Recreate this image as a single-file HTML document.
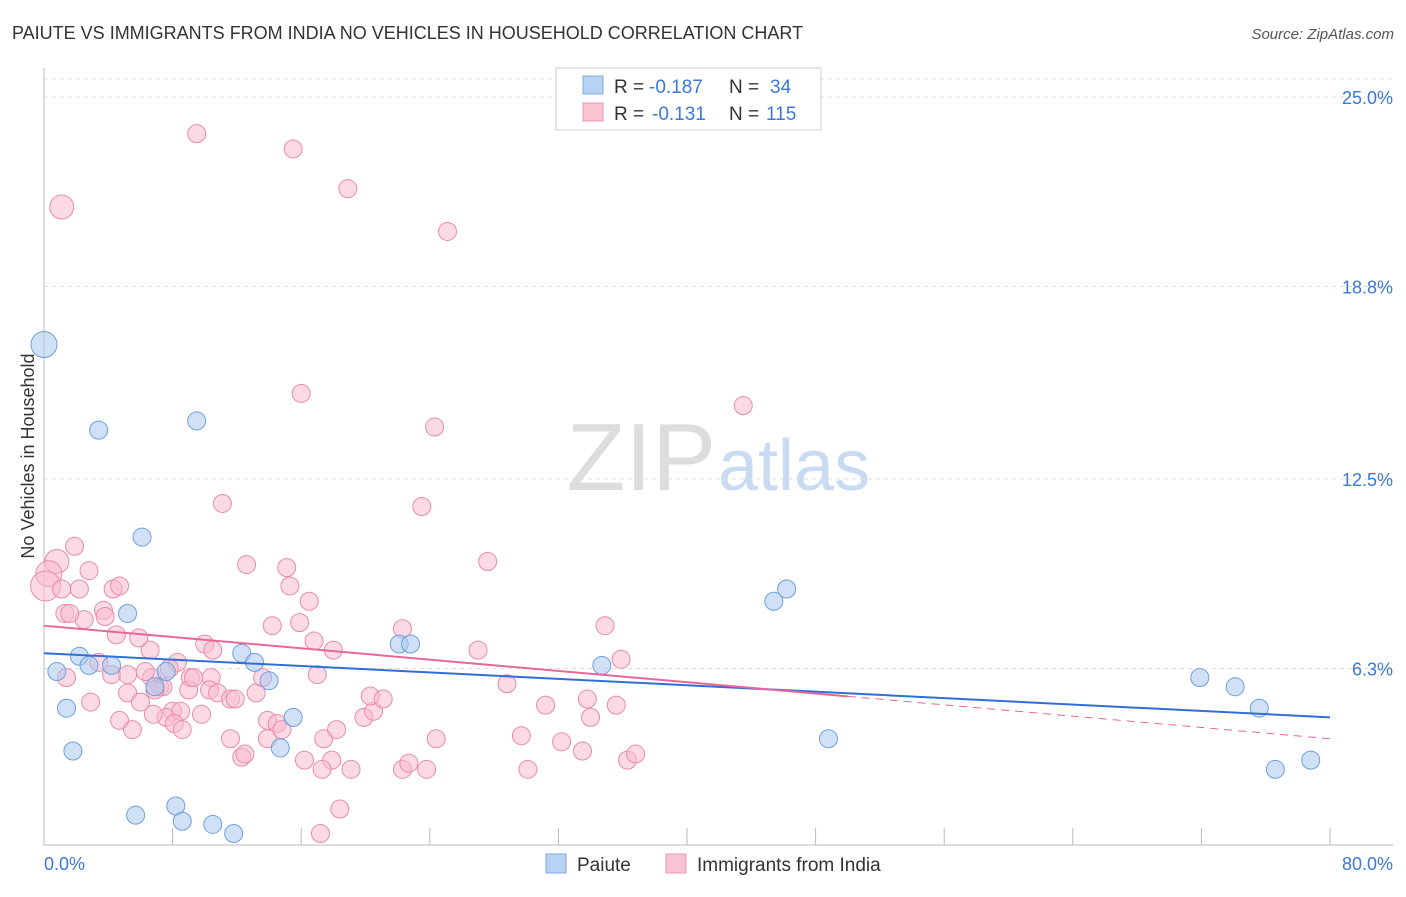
<!DOCTYPE html>
<html><head><meta charset="utf-8"><style>
body{margin:0;background:#fff;font-family:"Liberation Sans",sans-serif;}
svg text{font-family:"Liberation Sans",sans-serif;}
</style></head><body>
<svg id="chart" width="1406" height="892">
<text x="12" y="39" font-size="18" fill="#333">PAIUTE VS IMMIGRANTS FROM INDIA NO VEHICLES IN HOUSEHOLD CORRELATION CHART</text>
<text x="1394" y="39" font-size="15" fill="#555" font-style="italic" text-anchor="end">Source: ZipAtlas.com</text>
<text x="716" y="490" font-size="96" fill="#ddd" text-anchor="end" font-family="Liberation Serif">ZIP</text>
<text x="718" y="490" font-size="72" fill="#c9dbf2">atlas</text>
<g id="grid"></g>
<g id="axes"></g>
<g id="pts"></g>
<g id="lines"></g>
<text transform="translate(34,456) rotate(-90)" font-size="18" fill="#333" text-anchor="middle">No Vehicles in Household</text>
<text x="44" y="870" font-size="18" fill="#3b78d8">0.0%</text>
<text x="1393" y="870" font-size="18" fill="#3b78d8" text-anchor="end">80.0%</text>
<g>
<rect x="556" y="68" width="265" height="62" fill="#fff" stroke="#ccc"/>
<rect x="583" y="76" width="20" height="18" fill="#b8d2f3" stroke="#7fa8e0"/>
<rect x="583" y="103" width="20" height="18" fill="#f8c4d4" stroke="#eb9ab5"/>
<text x="614" y="93" font-size="19" fill="#333">R =</text>
<text x="649" y="93" font-size="19" fill="#3b78d8">-0.187</text>
<text x="729" y="93" font-size="19" fill="#333">N =</text>
<text x="770" y="93" font-size="19" fill="#3b78d8">34</text>
<text x="614" y="120" font-size="19" fill="#333">R =</text>
<text x="652" y="120" font-size="19" fill="#3b78d8">-0.131</text>
<text x="729" y="120" font-size="19" fill="#333">N =</text>
<text x="766" y="120" font-size="19" fill="#3b78d8">115</text>
</g>
<g>
<rect x="546" y="854" width="20" height="19" fill="#b8d2f3" stroke="#7fa8e0"/>
<text x="577" y="871" font-size="19" fill="#333">Paiute</text>
<rect x="666" y="854" width="20" height="19" fill="#f8c4d4" stroke="#eb9ab5"/>
<text x="697" y="871" font-size="19" fill="#333">Immigrants from India</text>
</g>
</svg>
<script>
const yTicks=[6.3,12.5,18.8,25.0];
const yTickLabels=["6.3%","12.5%","18.8%","25.0%"];
const paiuteX=[0,3.4,9.5,6.1,5.2,2.2,0.8,2.8,4.2,1.4,1.8,7.6,6.9,12.3,13.1,14.0,15.5,14.7,5.7,8.2,8.6,10.5,11.8,22.1,22.8,34.7,45.4,46.2,48.8,71.9,74.1,75.6,76.6,78.8];
const paiuteY=[16.9,14.1,14.4,10.6,8.1,6.7,6.2,6.4,6.4,5.0,3.6,6.2,5.7,6.8,6.5,5.9,4.7,3.7,1.5,1.8,1.3,1.2,0.9,7.1,7.1,6.4,8.5,8.9,4.0,6.0,5.7,5.0,3.0,3.3];
const paiuteSize=[13,9,9,9,9,9,9,9,9,9,9,9,9,9,9,9,9,9,9,9,9,9,9,9,9,9,9,9,9,9,9,9,9,9];
const indiaX=[1.1,9.5,15.5,18.9,25.1,16.0,24.3,43.5,11.1,23.5,27.6,12.6,15.1,15.3,16.5,14.2,15.9,22.3,34.9,35.9,27.0,16.8,18.0,10.0,10.5,8.3,6.6,4.5,5.9,1.9,0.8,0.3,0.1,1.1,2.8,4.3,3.7,3.8,2.5,1.3,2.2,1.6,3.4,4.2,5.2,6.7,7.2,9.1,9.0,10.4,10.3,10.8,11.6,11.9,13.2,13.6,6.3,7.8,9.3,8.0,7.6,8.5,8.1,8.6,9.8,6.0,4.7,5.5,6.8,11.6,12.3,12.5,13.9,13.9,14.5,14.8,16.2,17.4,17.9,18.2,17.3,19.1,19.9,20.5,20.3,18.4,21.1,22.3,22.7,23.8,24.4,28.8,29.7,30.1,31.2,33.5,33.8,34.0,35.6,36.3,36.8,32.2,17.2,17.0,5.2,7.4,6.9,1.4,4.7,2.9];
const indiaY=[21.4,23.8,23.3,22.0,20.6,15.3,14.2,14.9,11.7,11.6,9.8,9.7,9.6,9.0,8.5,7.7,7.8,7.6,7.7,6.6,6.9,7.2,6.9,7.1,6.9,6.5,6.9,7.4,7.3,10.3,9.8,9.4,9.0,8.9,9.5,8.9,8.2,8.0,7.9,8.1,8.9,8.1,6.5,6.1,5.5,6.0,5.7,6.0,5.6,6.0,5.6,5.5,5.3,5.3,5.5,6.0,6.2,6.3,6.0,4.9,4.7,4.9,4.5,4.3,4.8,5.2,4.6,4.3,4.8,4.0,3.4,3.5,4.0,4.6,4.5,4.3,3.3,4.0,3.3,4.3,3.0,3.0,4.7,4.9,5.4,1.7,5.3,3.0,3.2,3.0,4.0,5.8,4.1,3.0,5.1,3.6,5.3,4.7,5.1,3.3,3.5,3.9,0.9,6.1,6.1,5.7,5.6,6.0,9.0,5.2,7.7];
const indiaSize=[12,9,9,9,9,9,9,9,9,9,9,9,9,9,9,9,9,9,9,9,9,9,9,9,9,9,9,9,9,9,12,13,15,9,9,9,9,9,9,9,9,9,9,9,9,9,9,9,9,9,9,9,9,9,9,9,9,9,9,9,9,9,9,9,9,9,9,9,9,9,9,9,9,9,9,9,9,9,9,9,9,9,9,9,9,9,9,9,9,9,9,9,9,9,9,9,9,9,9,9,9,9,9,9,9,9,9,9,9,9,9,9,9,9,9];
const paiuteLine=[6.8,4.7];
const indiaLine=[7.7,4.0]; const indiaSolidEnd=50;
const xs=v=>44+v*16.075, ys=v=>861-v*30.56;
const NS="http://www.w3.org/2000/svg";
function mk(t,a,p){const e=document.createElementNS(NS,t);for(const k in a)e.setAttribute(k,a[k]);p.appendChild(e);return e;}
const grid=document.getElementById('grid'),axes=document.getElementById('axes'),pts=document.getElementById('pts'),lines=document.getElementById('lines');
yTicks.forEach((t,i)=>{
 const g=mk('line',{x1:44,x2:1393,y1:ys(t),y2:ys(t),stroke:'#ddd','stroke-dasharray':'4,4'},grid);
 
 
 const l=mk('text',{x:1393,y:ys(t)+7,'font-size':18,fill:'#3b78d8','text-anchor':'end'},grid);
 l.textContent=yTickLabels[i];
 
 
});
const topGrid=mk('line',{x1:44,x2:1393,y1:79,y2:79,stroke:'#ddd','stroke-dasharray':'4,4'},grid);


const ya=mk('line',{x1:44,x2:44,y1:68,y2:845,stroke:'#bbb'},axes);


const xa=mk('line',{x1:44,x2:1393,y1:845,y2:845,stroke:'#bbb'},axes);


for(let v=0;v<=80;v+=8){const t=mk('line',{x1:xs(v),x2:xs(v),y1:828,y2:845,stroke:'#bbb'},axes);
 
 }
function dots(X,Y,S,fill,stroke,name){X.forEach((x,i)=>{
 const c=mk('circle',{cx:xs(x),cy:ys(Y[i]),r:S[i],fill:fill,'fill-opacity':0.55,stroke:stroke,'stroke-width':1},pts);
 
 });}
dots(indiaX,indiaY,indiaSize,'#f8bcd0','#e98bab','india-point');
dots(paiuteX,paiuteY,paiuteSize,'#a9c8f0','#6d9fe0','paiute-point');
const pl=mk('line',{x1:xs(0),y1:ys(paiuteLine[0]),x2:xs(80),y2:ys(paiuteLine[1]),stroke:'#2f6fd6','stroke-width':2},lines);


const ym=indiaLine[0]+(indiaLine[1]-indiaLine[0])*indiaSolidEnd/80;
const il=mk('line',{x1:xs(0),y1:ys(indiaLine[0]),x2:xs(indiaSolidEnd),y2:ys(ym),stroke:'#e8679a','stroke-width':2},lines);


const id=mk('line',{x1:xs(indiaSolidEnd),y1:ys(ym),x2:xs(80),y2:ys(indiaLine[1]),stroke:'#e8679a','stroke-width':1,'stroke-dasharray':'8,6'},lines);


</script>
</body></html>
